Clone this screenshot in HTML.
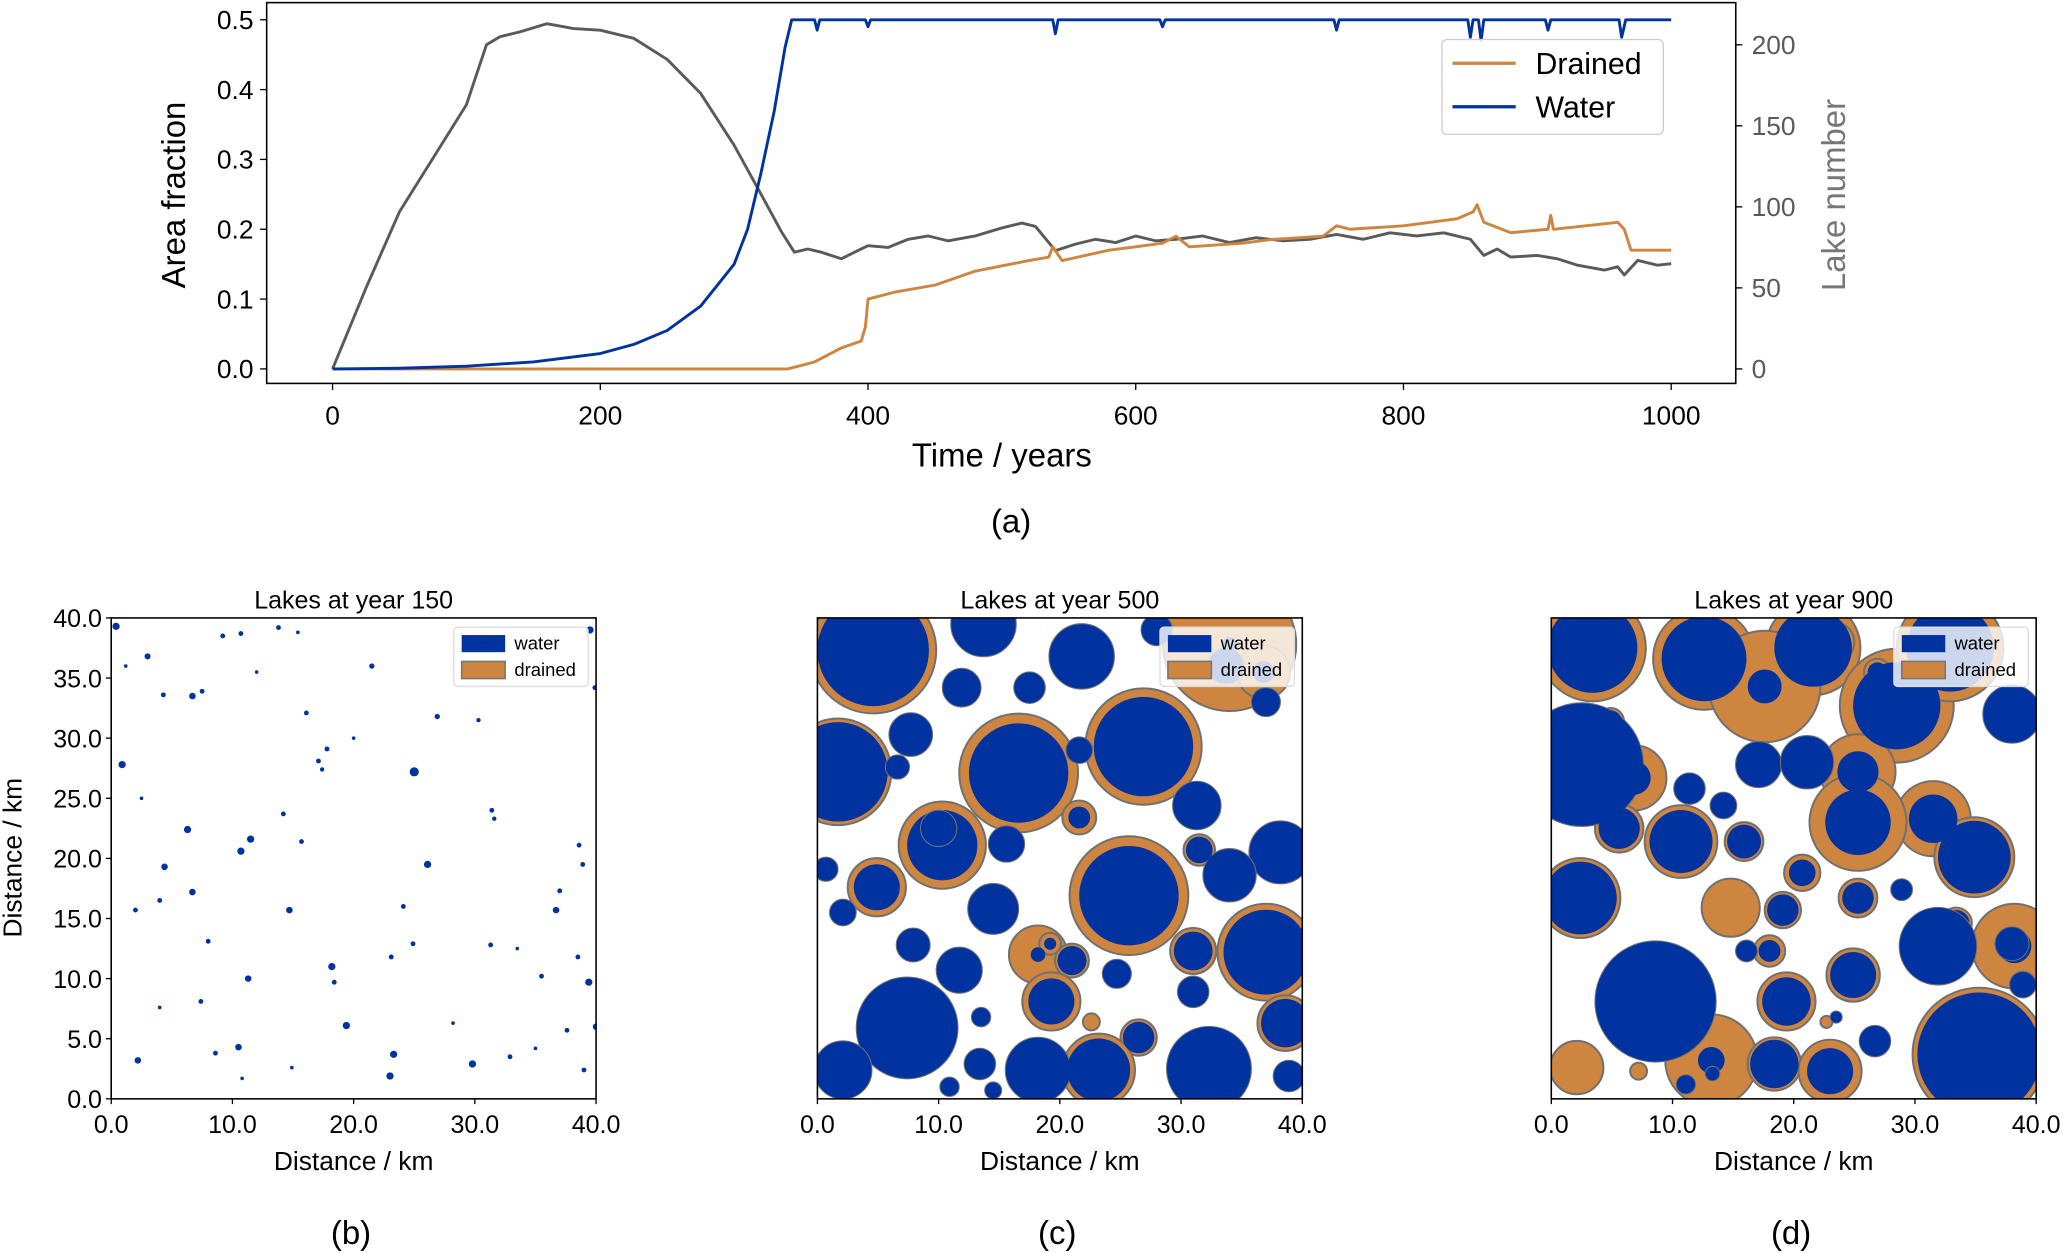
<!DOCTYPE html>
<html><head><meta charset="utf-8">
<style>
html,body{margin:0;padding:0;background:#fff;}
svg{display:block;font-family:"Liberation Sans","DejaVu Sans",sans-serif;}
</style></head>
<body>
<svg id="fig" width="2067" height="1253" viewBox="0 0 1568 951" xmlns="http://www.w3.org/2000/svg"></svg>
<script>
// ---- Panel (a) data ----
const waterYears = [0,50,100,150,200,225,250,275,300,310,320,330,338,343,360,362,364,398,400,402,538,540,542,618,620,622,748,750,752,848,850,852,856,858,860,906,908,910,961,963,966,1000];
const waterFrac  = [0,0.001,0.004,0.01,0.022,0.035,0.055,0.09,0.15,0.2,0.28,0.37,0.46,0.5,0.5,0.485,0.5,0.5,0.49,0.5,0.5,0.48,0.5,0.5,0.49,0.5,0.5,0.485,0.5,0.5,0.475,0.5,0.5,0.47,0.5,0.5,0.485,0.5,0.5,0.475,0.5,0.5];
const drainedYears = [0,340,350,360,380,395,398,400,420,450,480,520,535,538,545,580,600,620,630,640,680,700,740,750,760,800,840,852,855,860,880,908,910,912,960,965,970,1000];
const drainedFrac  = [0,0,0.005,0.01,0.03,0.04,0.06,0.1,0.11,0.12,0.14,0.155,0.16,0.175,0.155,0.17,0.175,0.18,0.19,0.175,0.18,0.185,0.19,0.205,0.2,0.205,0.215,0.225,0.235,0.21,0.195,0.2,0.22,0.2,0.21,0.2,0.17,0.17];
const lakeYears = [0,25,50,75,100,115,125,140,160,180,200,225,250,275,300,320,335,345,355,365,380,390,400,415,430,445,460,480,500,515,525,540,555,570,585,600,615,630,650,670,690,710,730,750,770,790,810,830,850,860,870,880,900,915,930,950,960,965,975,990,1000];
const lakeCount = [0,50,97,130,163,200,205,208,213,210,209,204,191,170,138,108,85,72,74,72,68,72,76,75,80,82,79,82,87,90,88,73,77,80,78,82,79,80,82,78,81,79,80,83,80,84,82,84,80,70,74,69,70,68,64,61,63,58,67,64,65];
const xTicksA = [0,200,400,600,800,1000];
const yTicksA = ["0.0","0.1","0.2","0.3","0.4","0.5"];
const yTicksRight = [0,50,100,150,200];

// ---- Panel (b): lakes year 150 [x km, y km, radius km] ----
const b_x = [0.4,0.9,3.0,4.3,6.7,7.5,9.2,10.7,13.8,15.4,21.5,39.5,39.9,26.9,30.3,17.8,16.1,17.1,17.4,25.0,31.4,31.6,14.2,6.3,11.5,10.7,15.7,4.4,26.1,38.6,38.9,37.0,6.7,4.0,14.7,2.0,24.1,36.7,24.9,18.2,8.0,18.4,23.1,31.3,38.5,11.3,35.5,39.4,19.4,10.5,37.6,40.0,23.3,23.0,29.8,32.9,2.2,39.0,8.6,7.4,4.0,14.9,10.8,35.0,33.5,28.2,2.5,1.2,12.0,20.0];
const b_y = [39.3,27.8,36.8,33.6,33.5,33.9,38.5,38.7,39.2,38.8,36.0,39.0,34.2,31.8,31.5,29.1,32.1,28.1,27.4,27.2,24.0,23.3,23.7,22.4,21.6,20.6,21.4,19.3,19.5,21.1,19.5,17.3,17.2,16.5,15.7,15.7,16.0,15.7,12.9,11.0,13.1,9.7,11.8,12.8,11.8,10.0,10.2,9.7,6.1,4.3,5.7,6.0,3.7,1.9,2.9,3.5,3.2,2.4,3.8,8.1,7.6,2.6,1.7,4.2,12.5,6.3,25.0,36.0,35.5,30.0];
const b_r = [0.3,0.3,0.25,0.2,0.27,0.2,0.2,0.2,0.2,0.15,0.22,0.3,0.2,0.22,0.18,0.2,0.2,0.2,0.18,0.38,0.2,0.18,0.2,0.3,0.3,0.3,0.2,0.27,0.3,0.2,0.2,0.2,0.27,0.2,0.27,0.2,0.2,0.27,0.2,0.3,0.2,0.2,0.2,0.2,0.2,0.27,0.2,0.3,0.3,0.27,0.2,0.27,0.3,0.3,0.3,0.2,0.27,0.2,0.2,0.2,0.15,0.15,0.15,0.15,0.15,0.15,0.15,0.15,0.15,0.15];

// ---- Panel (c): lakes year 500 [x km, y km, water r km, drained r km] ----
const c_x = [4.6,13.7,21.8,34.0,36.8,11.9,17.5,1.7,7.7,6.6,16.6,26.9,21.6,31.3,38.2,10.3,15.6,10.0,21.6,4.9,0.7,2.1,14.5,25.7,34.0,31.5,7.9,11.7,18.2,21.0,19.3,31.0,37.0,24.7,31.0,7.4,13.5,22.6,26.5,32.3,38.6,2.1,13.4,18.2,23.2,38.9,10.9,14.5,19.2,33.7,28.0,37.0];
const c_y = [37.3,39.5,36.8,37.8,35.5,34.2,34.2,27.2,30.3,27.6,27.1,29.3,29.0,24.4,20.5,21.1,21.2,22.5,23.4,17.6,19.1,15.5,15.8,16.9,18.6,20.7,12.8,10.7,12.0,11.5,8.1,12.3,12.2,10.4,8.9,5.9,6.8,6.4,5.1,2.5,6.3,2.4,2.9,2.4,2.4,1.9,1.0,0.7,12.9,36.0,39.0,33.0];
const c_w = [4.6,2.7,2.7,0.6,0.9,1.6,1.3,4.1,1.8,1.0,4.1,4.1,1.1,2.0,2.6,2.9,1.5,1.5,0.9,1.9,1.0,1.1,2.1,4.1,2.2,1.1,1.4,1.9,0.6,1.2,1.9,1.6,3.5,1.2,1.3,4.2,0.8,0,1.3,3.5,2.0,2.4,1.3,2.7,2.6,1.3,0.8,0.7,0.5,1.5,1.3,1.2];
const c_d = [5.2,0,0,5.5,2.2,0,0,4.4,0,0,4.9,4.8,0,0,0,3.6,0,0,1.4,2.4,0,0,0,4.9,0,1.3,0,0,2.4,1.4,2.4,1.9,4.0,0,0,0,0,0.7,1.5,0,2.3,0,0,0,3.0,0,0,0,0.9,0,0,0];

// ---- Panel (d): lakes year 900 ----
const d_x = [3.4,12.6,21.6,28.5,32.9,23.4,26.9,17.6,38.0,2.5,6.8,4.9,17.1,16.6,21.1,11.4,14.2,25.3,31.5,5.6,10.7,15.9,25.3,34.9,2.4,14.8,25.3,20.7,28.9,33.4,31.9,19.1,38.2,8.6,18.0,24.9,16.1,19.4,35.3,2.1,13.2,13.3,11.1,18.4,23.0,7.2,26.7,22.7,38.0,23.5,38.9];
const d_y = [37.5,36.6,37.5,32.7,37.5,38.0,35.5,34.3,32.0,27.8,26.7,31.4,27.8,27.8,28.0,25.8,24.4,27.2,23.3,22.5,21.4,21.4,23.0,20.1,16.7,15.9,16.7,18.8,17.4,14.6,12.7,15.7,12.7,8.1,12.3,10.3,12.3,8.1,3.7,2.6,3.2,2.1,1.2,2.9,2.3,2.3,4.8,6.4,12.9,6.8,9.5];
const d_w = [3.7,3.5,3.2,3.6,3.6,1.3,0.8,1.4,2.4,5.1,1.4,0.9,1.9,0,2.2,1.3,1.1,1.7,2.0,1.7,2.6,1.4,2.7,3.0,3.0,0,1.3,1.1,0.9,1.1,3.2,1.3,1.4,5.0,0.9,1.9,0.9,2.0,5.1,0,1.1,0.6,0.8,2.0,1.9,0,1.3,0,1.4,0.5,1.1];
const d_d = [4.4,4.2,3.9,4.7,4.4,1.6,1.1,4.6,0,0,2.7,1.1,0,0,0,0,0,3.1,3.1,2.0,3.0,1.6,4.0,3.3,3.3,2.4,1.6,1.5,0,1.3,0,1.5,3.5,0,1.3,2.2,0,2.4,5.5,2.2,3.8,0,0,2.2,2.6,0.7,0,0.5,0,0,0];

const NS = "http://www.w3.org/2000/svg";
const svg = document.getElementById('fig');
function mk(tag, attrs, parent){
  const e = document.createElementNS(NS, tag);
  for (const k in attrs) e.setAttribute(k, attrs[k]);
  (parent||svg).appendChild(e);
  return e;
}
function txt(s, x, y, size, anchor, parent, fill){
  const t = mk('text', {x:x, y:y, 'font-size':size, 'text-anchor':anchor||'middle', fill:fill||'#000'}, parent);
  t.textContent = s;
  return t;
}
const BLUE = "#0033a0", ORANGE = "#cd853f", GRAY = "#5a5a5a";

// ===== Panel (a) =====
const A = {x0:202, x1:1317, y0:2, y1:291};
const ax = v => 252 + (v/1000)*(1268-252);
const ayL = v => 280 - (v/0.5)*(280-15);
const ayR = v => 280 - (v/200)*(280-34);
const ga = mk('g', {});


function poly(xs, ys, fx, fy, color, name){
  const pts = xs.map((v,i)=> fx(v).toFixed(1)+','+fy(ys[i]).toFixed(1)).join(' ');
  const p = mk('polyline', {points:pts, fill:'none', stroke:color, 'stroke-width':2.2, 'stroke-linejoin':'round'}, ga);
  
  
}
poly(lakeYears, lakeCount, ax, ayR, GRAY, 'lake-number-line');
poly(drainedYears, drainedFrac, ax, ayL, ORANGE, 'drained-line');
poly(waterYears, waterFrac, ax, ayL, BLUE, 'water-line');
const frameA = mk('rect', {x:A.x0, y:A.y0, width:A.x1-A.x0, height:A.y1-A.y0, fill:'none', stroke:'#000', 'stroke-width':1.2}, ga);


xTicksA.forEach(v=>{
  mk('line', {x1:ax(v), x2:ax(v), y1:A.y1, y2:A.y1+5, stroke:'#000'}, ga);
  const t = txt(String(v), ax(v), 322, 20, 'middle', ga);
  
  
});
yTicksA.forEach(s=>{
  const v = parseFloat(s);
  mk('line', {x1:A.x0-5, x2:A.x0, y1:ayL(v), y2:ayL(v), stroke:'#000'}, ga);
  const t = txt(s, A.x0-10, ayL(v)+7, 20, 'end', ga);
  
  
});
yTicksRight.forEach(v=>{
  mk('line', {x1:A.x1, x2:A.x1+5, y1:ayR(v), y2:ayR(v), stroke:'#000'}, ga);
  const t = txt(String(v), A.x1+12, ayR(v)+7, 20, 'start', ga, GRAY);
  
  
});
let t;
t = txt('Time / years', 760, 354, 25, 'middle', ga);


t = mk('text', {x:0, y:0, 'font-size':25, 'text-anchor':'middle', transform:'translate(140,148) rotate(-90)'}, ga);
t.textContent = 'Area fraction';


t = mk('text', {x:0, y:0, 'font-size':25, 'text-anchor':'middle', fill:'#777', transform:'translate(1400,148) rotate(-90)'}, ga);
t.textContent = 'Lake number';


const lg = mk('g', {}, ga);


mk('rect', {x:1094, y:30, width:168, height:72, rx:4, fill:'#fff', 'fill-opacity':0.85, stroke:'#ccc'}, lg);
mk('line', {x1:1102, x2:1150, y1:48, y2:48, stroke:ORANGE, 'stroke-width':2.5}, lg);
mk('line', {x1:1102, x2:1150, y1:81, y2:81, stroke:BLUE, 'stroke-width':2.5}, lg);
t = txt('Drained', 1165, 56, 23, 'start', lg);


t = txt('Water', 1165, 89, 23, 'start', lg);


t = txt('(a)', 767, 404, 25, 'middle');



// ===== Lake map panels =====
function panel(id, x0, title, label, showY, drawFn){
  const W = 368, y0 = 469, y1 = 834;
  const g = mk('g', {});
  
  
  const fx = v => x0 + v/40*W;
  const fy = v => y1 - v/40*(y1-y0);
  const sc = v => v/40*W;
  const cp = mk('clipPath', {id:'clip'+id}, g);
  mk('rect', {x:x0, y:y0, width:W, height:y1-y0}, cp);
  const inner = mk('g', {'clip-path':'url(#clip'+id+')'}, g);
  drawFn(inner, fx, fy, sc);
  mk('rect', {x:x0, y:y0, width:W, height:y1-y0, fill:'none', stroke:'#000', 'stroke-width':1.2}, g);
  [0,10,20,30,40].forEach(v=>{
    mk('line', {x1:fx(v), x2:fx(v), y1:y1, y2:y1+4, stroke:'#000'}, g);
    const tt = txt(v.toFixed(1), fx(v), y1+26, 19, 'middle', g);
    
    
  });
  if (showY){
    [0,5,10,15,20,25,30,35,40].forEach(v=>{
      mk('line', {x1:x0-4, x2:x0, y1:fy(v), y2:fy(v), stroke:'#000'}, g);
      const tt = txt(v.toFixed(1), x0-7, fy(v)+7, 19, 'end', g);
      
      
    });
    const yt = mk('text', {x:0, y:0, 'font-size':20, 'text-anchor':'middle', transform:'translate(16,651) rotate(-90)'}, g);
    yt.textContent = 'Distance / km';
    
    
  }
  let tt = txt(title, x0+W/2, 462, 19, 'middle', g);
  
  
  tt = txt('Distance / km', x0+W/2, 888, 20, 'middle', g);
  
  
  tt = txt(label, x0+W/2 - 2, 944, 25, 'middle', g);
  
  
  const L = mk('g', {}, g);
  
  
  const lx = x0 + W - 108, ly = y0 + 7;
  mk('rect', {x:lx, y:ly, width:102, height:45, rx:3, fill:'#fff', 'fill-opacity':0.8, stroke:'#ddd'}, L);
  mk('rect', {x:lx+6, y:ly+6, width:33, height:13, fill:BLUE}, L);
  mk('rect', {x:lx+6, y:ly+26, width:33, height:13, fill:ORANGE, stroke:'#777', 'stroke-width':1.2}, L);
  tt = txt('water', lx+46, ly+17, 14, 'start', L);
  
  
  tt = txt('drained', lx+46, ly+37, 14, 'start', L);
  
  
}

panel('b', 84, 'Lakes at year 150', '(b)', true, (g, fx, fy, sc)=>{
  b_x.forEach((x,i)=>{
    const c = mk('circle', {cx:fx(x), cy:fy(b_y[i]), r:Math.max(0.9, sc(b_r[i])), fill:BLUE}, g);
    
    
  });
});
function drawLakes(xs, ys, ws, ds){
  return (g, fx, fy, sc)=>{
    xs.forEach((x,i)=>{
      if (ds[i] > 0){
        const c = mk('circle', {cx:fx(x), cy:fy(ys[i]), r:sc(ds[i]), fill:ORANGE, stroke:'#707070', 'stroke-width':1.5}, g);
        
        
      }
    });
    xs.forEach((x,i)=>{
      if (ws[i] > 0){
        const c = mk('circle', {cx:fx(x), cy:fy(ys[i]), r:sc(ws[i]), fill:BLUE, stroke:ds[i]>0?'none':'#707070', 'stroke-width':0.8}, g);
        
        
      }
    });
  };
}
panel('c', 620, 'Lakes at year 500', '(c)', false, drawLakes(c_x, c_y, c_w, c_d));
panel('d', 1177, 'Lakes at year 900', '(d)', false, drawLakes(d_x, d_y, d_w, d_d));
</script>
</body></html>
